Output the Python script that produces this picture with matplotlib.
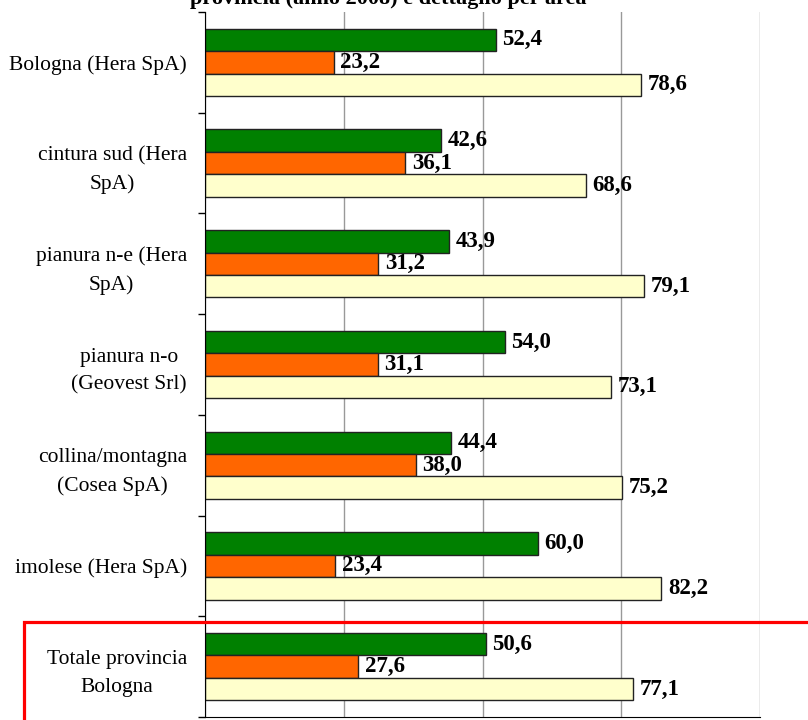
import numpy as np
import matplotlib.pyplot as plt
from matplotlib.patches import Rectangle

# categories top to bottom
ambiti = ['Bologna (Hera SpA)', 'cintura sud (Hera\nSpA)', 'pianura n-e (Hera\nSpA)',
          'pianura n-o\n(Geovest Srl)', 'collina/montagna\n(Cosea SpA)',
          'imolese (Hera SpA)', 'Totale provincia\nBologna']
verde = [52.4, 42.6, 43.9, 54.0, 44.4, 60.0, 50.6]
arancio = [23.2, 36.1, 31.2, 31.1, 38.0, 23.4, 27.6]
giallo = [78.6, 68.6, 79.1, 73.1, 75.2, 82.2, 77.1]

plt.rcParams['font.family'] = ['Liberation Serif', 'DejaVu Serif']

fig = plt.figure(figsize=(8.08, 7.2), dpi=100)
ax = fig.add_axes([205 / 808, 3 / 720, 555 / 808, 705 / 720])

n = len(ambiti)
y = np.arange(n)
h = 0.223
series = [(verde, '#008000', -h), (arancio, '#FF6600', 0), (giallo, '#FFFFCC', h)]
for vals, col, off in series:
    bars = ax.barh(y + off, vals, height=h, color=col, edgecolor='#222222', linewidth=1)
    for b, v in zip(bars, vals):
        ax.text(v + 1.2, b.get_y() + b.get_height() / 2, f'{v:.1f}'.replace('.', ','),
                va='center', ha='left', fontsize=16.5, fontweight='bold')

ax.set_xlim(0, 100)
ax.set_ylim(n - 0.5, -0.5)
ax.set_xticks([0, 25, 50, 75, 100])
ax.tick_params(axis='x', length=0, labelbottom=False)
ax.xaxis.grid(True, color='#999999', linewidth=1)
ax.set_axisbelow(True)

ax.set_yticks(np.arange(-0.5, n, 1.0))
ax.set_yticklabels([])
ax.tick_params(axis='y', length=5, width=1, direction='out')
ax.set_yticks(y, minor=True)
ax.set_yticklabels(ambiti, minor=True, fontsize=15.5, ha='right',
                   multialignment='center', linespacing=1.6)
ax.tick_params(axis='y', which='minor', length=0, pad=13)

for s in ['top', 'right']:
    ax.spines[s].set_visible(False)
ax.spines['left'].set_color('black')
ax.spines['bottom'].set_color('black')

fig.text(388 / 808, 1 - 4 / 720, 'provincia (anno 2008) e dettaglio per area',
         ha='center', va='baseline', fontsize=16, fontweight='bold')

# red frame round the total
fig.patches.append(Rectangle((24 / 808, -0.1), 1.0, (720 - 622) / 720 + 0.1,
                             transform=fig.transFigure, fill=False,
                             edgecolor='#FF0000', linewidth=2.3))

fig.savefig('out.png', dpi=100)
